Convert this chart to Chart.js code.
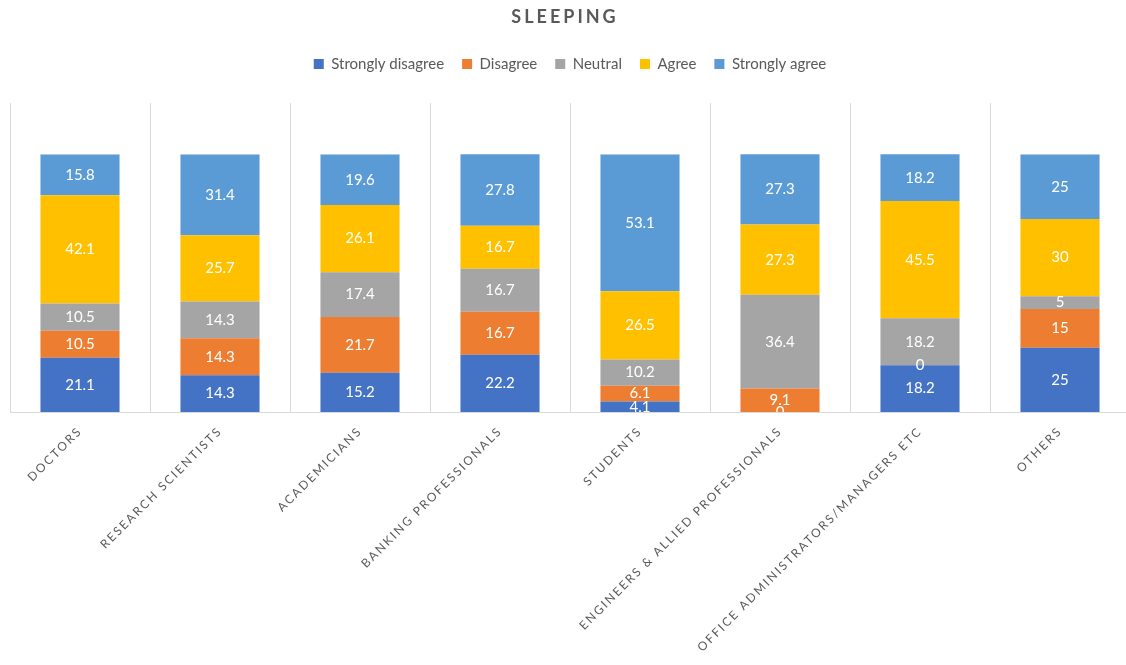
<!DOCTYPE html>
<html><head><meta charset="utf-8">
<script src="https://cdn.jsdelivr.net/npm/chart.js@4.4.1/dist/chart.umd.min.js"></script>
<style>
html,body{margin:0;padding:0;background:#fff;overflow:hidden;}
#wrap{width:1130px;height:665px;position:relative;}
</style></head><body>
<div id="wrap"><canvas id="c"></canvas></div>
<script>
const chartTitle = 'SLEEPING';
const categories = ['DOCTORS','RESEARCH SCIENTISTS','ACADEMICIANS','BANKING PROFESSIONALS','STUDENTS','ENGINEERS & ALLIED PROFESSIONALS','OFFICE ADMINISTRATORS/MANAGERS ETC','OTHERS'];
const seriesNames = ['Strongly disagree','Disagree','Neutral','Agree','Strongly agree'];
const stronglyDisagree = [21.1,14.3,15.2,22.2,4.1,0,18.2,25];
const disagree = [10.5,14.3,21.7,16.7,6.1,9.1,0,15];
const neutral = [10.5,14.3,17.4,16.7,10.2,36.4,18.2,5];
const agree = [42.1,25.7,26.1,16.7,26.5,27.3,45.5,30];
const stronglyAgree = [15.8,31.4,19.6,27.8,53.1,27.3,18.2,25];
const seriesColors = ['#4472C4','#ED7D31','#A5A5A5','#FFC000','#5B9BD5'];
const yMax = 120;

const FONT = 'Lato';
const seriesData = [stronglyDisagree, disagree, neutral, agree, stronglyAgree];

const legendSpace = {
  id: 'legendSpace',
  beforeInit(chart) {
    const lg = chart.legend;
    if (!lg) return;
    const fit = lg.fit;
    lg.fit = function () { fit.call(this); this.height += 21.5; };
  }
};

const labelsAndTitle = {
  id: 'labelsAndTitle',
  afterDatasetsDraw(chart) {
    const ctx = chart.ctx, a = chart.chartArea;
    ctx.save();
    ctx.beginPath();
    ctx.rect(a.left, a.top, a.right - a.left, a.bottom - a.top);
    ctx.clip();
    ctx.font = '15px ' + FONT;
    ctx.fillStyle = '#ffffff';
    ctx.textAlign = 'center';
    ctx.textBaseline = 'middle';
    chart.data.datasets.forEach((ds, i) => {
      const meta = chart.getDatasetMeta(i);
      meta.data.forEach((el, j) => {
        const v = ds.data[j];
        ctx.fillText(String(v), el.x, (el.y + el.base) / 2);
      });
    });
    ctx.restore();
    ctx.letterSpacing = '2px';
  },
  afterDraw(chart) {
    const ctx = chart.ctx;
    ctx.letterSpacing = '0px';
    ctx.save();
    ctx.letterSpacing = '3px';
    ctx.font = 'bold 18px ' + FONT;
    ctx.fillStyle = '#595959';
    ctx.textAlign = 'center';
    ctx.textBaseline = 'middle';
    ctx.fillText(chartTitle, chart.width / 2, 17);
    ctx.restore();
    ctx.letterSpacing = '0px';
  }
};

new Chart(document.getElementById('c'), {
  type: 'bar',
  data: {
    labels: categories,
    datasets: seriesNames.map((n, i) => ({
      label: n,
      data: seriesData[i],
      backgroundColor: seriesColors[i],
      borderWidth: 0,
      categoryPercentage: 1,
      barPercentage: 0.565
    }))
  },
  options: {
    responsive: true,
    maintainAspectRatio: false,
    animation: false,
    layout: { padding: { top: 38.5, left: 10, right: 0, bottom: 0 } },
    plugins: {
      legend: {
        position: 'top',
        labels: { boxWidth: 10, boxHeight: 10, color: '#595959', font: { family: FONT, size: 15 }, padding: 18 }
      },
      title: { display: false },
      tooltip: { enabled: false }
    },
    scales: {
      x: {
        stacked: true,
        grid: { color: '#D9D9D9', drawTicks: false, offset: true },
        border: { color: '#D9D9D9' },
        ticks: { autoSkip: false, maxRotation: 45, minRotation: 45, color: '#595959', font: { family: FONT, size: 12 }, padding: 12, z: 1 },
        afterFit(s) { s.height = 253; }
      },
      y: { stacked: true, display: false, min: 0, max: yMax }
    }
  },
  plugins: [legendSpace, labelsAndTitle]
});
</script>
</body></html>
